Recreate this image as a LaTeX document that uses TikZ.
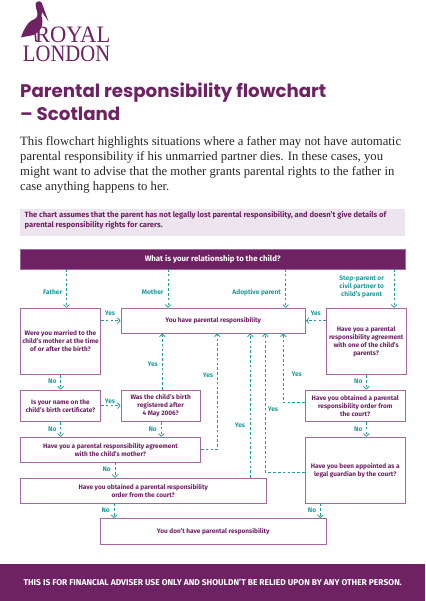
\documentclass[tikz,border=0pt]{standalone}
\usepackage{fontspec}
\usepackage{graphicx}
\setmainfont{Liberation Serif}
\newfontfamily\pp{Poppins}
\newfontfamily\fs{Fira Sans}
\usetikzlibrary{arrows.meta,calc}
\definecolor{rlpurple}{HTML}{6E2263}
\definecolor{rlline}{HTML}{A5699F}
\definecolor{rlteal}{HTML}{1F9C9B}
\definecolor{rlnote}{HTML}{ECE4EE}
\tikzset{
  qbox/.style={draw=rlline,line width=0.9pt,fill=white,anchor=north west,inner sep=0pt,align=center,text=rlpurple,font=\fs\bfseries\fontsize{6.5}{8}\selectfont},
  flow/.style={draw=rlteal,line width=0.8pt,dash pattern=on 2.6pt off 2.2pt,-{Straight Barb[length=2.6pt,width=5.5pt,line width=0.8pt,round]}},
  flowlabel/.style={text=rlteal,inner sep=0pt,align=center,font=\fs\bfseries\fontsize{6.6}{8}\selectfont},
  logotext/.style={anchor=base east,inner sep=0pt,text=rlpurple,font=\fontsize{23.5}{24}\selectfont},
}
\begin{document}
\begin{tikzpicture}[x=1pt,y=-1pt]
\useasboundingbox (0,0) rectangle (425,601);
% logo
\fill[rlpurple] (35.5,4) .. controls (36,1) and (41,0) .. (42,3.5) -- (48.5,21.5) -- (42,12) -- (41.5,16)
  .. controls (43.5,22) and (43,29) .. (36,33.5) -- (36.5,40) -- (38,41.5) -- (35,41.5) -- (34.6,34.5)
  .. controls (31,36) and (27,36) .. (21,37.5) .. controls (23,31) and (26,26) .. (29,22.5)
  .. controls (32,19) and (37,20) .. (37.5,15) .. controls (37.6,10) and (35,8) .. (35.5,4) -- cycle;
\node[logotext] (royal) at (110.5,42.7) {\scalebox{.96}[1]{ROYAL}};
\node[logotext] (london) at (110.5,61.5) {\scalebox{.88}[1]{LONDON}};
% heading
\node[anchor=base west,inner sep=0pt,text=rlpurple,font=\pp\bfseries\fontsize{18.2}{22}\selectfont] (t1) at (20,98) {Parental responsibility flowchart};
\node[anchor=base west,inner sep=0pt,text=rlpurple,font=\pp\bfseries\fontsize{18.2}{22}\selectfont] (t2) at (20,120.5) {– Scotland};
\node[anchor=north west,inner sep=0pt,text=black!85,align=left,font=\fontsize{12.7}{15}\selectfont] (intro) at (20,136.3) {This flowchart highlights situations where a father may not have automatic\\parental responsibility if his unmarried partner dies. In these cases, you\\might want to advise that the mother grants parental rights to the father in\\case anything happens to her.};
\node[anchor=north west,fill=rlnote,minimum width=385pt,minimum height=27.5pt,inner sep=0pt] (notebg) at (20,208.5) {};
\node[anchor=north west,inner sep=0pt,text=rlpurple,align=left,font=\fs\bfseries\fontsize{7.6}{10}\selectfont] (note) at (24.5,211.5) {The chart assumes that the parent has not legally lost parental responsibility, and doesn’t give details of\\parental responsibility rights for carers.};
% boxes
\node[anchor=north west,fill=rlpurple,draw=rlline,line width=0.5pt,minimum width=385pt,minimum height=19.5pt,inner sep=0pt,text=white,font=\fs\bfseries\fontsize{7.85}{8}\selectfont] (hdr) at (20,249) {What is your relationship to the child?};
\node[qbox,minimum width=80pt,minimum height=66.5pt] (father) at (20,307.7) {Were you married to the\\child’s mother at the time\\of or after the birth?};
\node[qbox,minimum width=184.5pt,minimum height=25pt] (you) at (120.5,307.7) {You have parental responsibility};
\node[qbox,minimum width=79.5pt,minimum height=66.5pt] (step) at (326,307.7) {Have you a parental\\responsibility agreement\\with one of the child’s\\parents?};
\node[qbox,minimum width=80pt,minimum height=31.5pt] (name) at (20,389.5) {Is your name on the\\child’s birth certificate?};
\node[qbox,minimum width=79.5pt,minimum height=31.5pt] (was) at (120.5,389.5) {Was the child’s birth\\registered after\\4 May 2006?};
\node[qbox,minimum width=100.5pt,minimum height=31.5pt] (court) at (304.5,389.5) {Have you obtained a parental\\responsibility order from\\the court?};
\node[qbox,minimum width=180pt,minimum height=25pt] (agree) at (20,436.7) {Have you a parental responsibility agreement\\with the child’s mother?};
\node[qbox,minimum width=245.5pt,minimum height=25pt] (obtain) at (20,477.7) {Have you obtained a parental responsibility\\order from the court?};
\node[qbox,minimum width=100.5pt,minimum height=66pt] (guard) at (304.5,436.7) {Have you been appointed as a\\legal guardian by the court?};
\node[qbox,minimum width=226.5pt,minimum height=25.7pt] (dont) at (99.5,518) {You don’t have parental responsibility};
\node[anchor=north west,fill=rlpurple,minimum width=425pt,minimum height=37.5pt,inner sep=0pt,text=white,font=\fs\bfseries\fontsize{8.45}{8}\selectfont] (foot) at (0,563.5) {THIS IS FOR FINANCIAL ADVISER USE ONLY AND SHOULDN’T BE RELIED UPON BY ANY OTHER PERSON.};
% connectors
\coordinate (fax) at (66.5,0);
\coordinate (max) at (168,0);
\coordinate (adx) at (285.7,0);
\coordinate (stx) at (394,0);
\draw[flow] (hdr.south -| fax) -- (father.north -| fax);
\draw[flow] (hdr.south -| max) -- (you.north -| max);
\draw[flow] (hdr.south -| adx) -- (you.north -| adx);
\draw[flow] (hdr.south -| stx) -- (step.north -| stx);
\draw[flow] (father.east |- you.west) -- (you.west);
\draw[flow] (step.west |- you.east) -- (you.east);
\coordinate (nx) at (60.7,0);
\draw[flow] (father.south -| nx) -- (name.north -| nx);
\draw[flow] (name.east |- was.west) -- (was.west);
\coordinate (wx) at (162.3,0);
\draw[flow] (was.north -| wx) -- (you.south -| wx);
\draw[flow] (name.south -| nx) -- (agree.north -| nx);
\coordinate (wn) at (161.3,0);
\draw[flow] (was.south -| wn) -- (agree.north -| wn);
\coordinate (ax) at (217.3,0);
\draw[flow] (agree.east) -| (you.south -| ax);
\coordinate (ox) at (250.3,0);
\draw[flow] (obtain.north -| ox) -- (you.south -| ox);
\coordinate (gx) at (265.3,0);
\coordinate (gy) at (0,472);
\draw[flow] (guard.west |- gy) -| (you.south -| gx);
\coordinate (cx) at (283.3,0);
\coordinate (cy) at (0,402.7);
\draw[flow] (court.west |- cy) -| (you.south -| cx);
\coordinate (sx) at (366.3,0);
\draw[flow] (step.south -| sx) -- (court.north -| sx);
\draw[flow] (court.south -| sx) -- (guard.north -| sx);
\coordinate (an) at (115,0);
\draw[flow] (agree.south -| an) -- (obtain.north -| an);
\coordinate (on) at (114,0);
\draw[flow] (obtain.south -| on) -- (dont.north -| on);
\coordinate (gn) at (320.3,0);
\draw[flow] (guard.south -| gn) -- (dont.north -| gn);
% labels
\node[flowlabel] (l1) at (52.7,291.7) {Father};
\node[flowlabel] (l2) at (152.7,292.3) {Mother};
\node[flowlabel] (l3) at (256.7,292.3) {Adoptive parent};
\node[flowlabel] (l4) at (361.7,286.7) {Step-parent or\\civil partner to\\child’s parent};
\node[flowlabel] (l5) at (110,313.7) {Yes};
\node[flowlabel] (l6) at (315.7,313.7) {Yes};
\node[flowlabel] (l7) at (52.3,381.7) {No};
\node[flowlabel] (l8) at (110,401) {Yes};
\node[flowlabel] (l9) at (152.7,364) {Yes};
\node[flowlabel] (l10) at (208,375) {Yes};
\node[flowlabel] (l11) at (358.3,381.7) {No};
\node[flowlabel] (l12) at (296.7,374.3) {Yes};
\node[flowlabel] (l13) at (273,409.3) {Yes};
\node[flowlabel] (l14) at (240,425.3) {Yes};
\node[flowlabel] (l15) at (52.3,429) {No};
\node[flowlabel] (l16) at (152.7,429) {No};
\node[flowlabel] (l17) at (358.3,429) {No};
\node[flowlabel] (l18) at (106.7,469.7) {No};
\node[flowlabel] (l19) at (105.7,510.3) {No};
\node[flowlabel] (l20) at (312,510.3) {No};
\end{tikzpicture}
\end{document}
